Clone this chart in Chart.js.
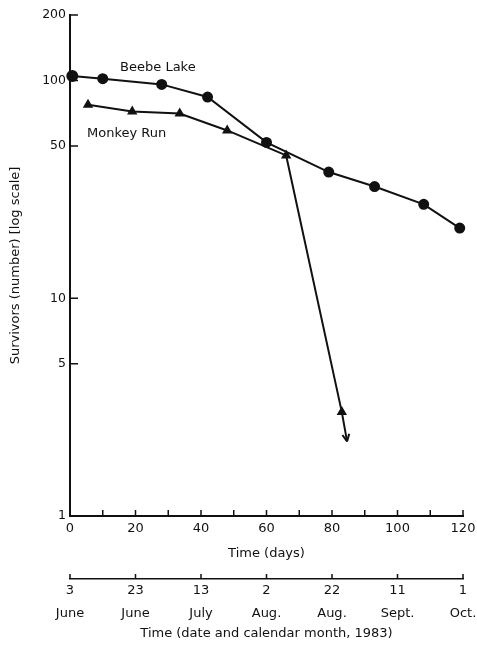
<!DOCTYPE html>
<html>
<head>
<meta charset="utf-8">
<script src="https://cdn.jsdelivr.net/npm/chart.js@4.4.1/dist/chart.umd.min.js"></script>
<style>
  body { margin: 0; background: #fff; }
  #wrap { width: 477px; height: 645px; position: relative; }
</style>
</head>
<body>
<div id="wrap"><canvas id="survChart"></canvas></div>
<script>
// --- Données ---
const beebeDays = [0.7, 10, 28, 42, 60, 79, 93, 108, 119];
const beebeCounts = [105, 102, 96, 84, 52, 38, 32.6, 27, 21];

const monkeyDays = [5.5, 19, 33.5, 48, 66, 83, 84.6];   // dernier = pointe de la flèche
const monkeyCounts = [77.5, 72, 70.5, 59, 45.3, 3, 2.2];

const yTickValues = [1, 5, 10, 50, 100, 200];
const dayTickValues = [0, 20, 40, 60, 80, 100, 120];
const dateDays = ['3', '23', '13', '2', '22', '11', '1'];
const dateMonths = ['June', 'June', 'July', 'Aug.', 'Aug.', 'Sept.', 'Oct.'];

const seriesLabels = [
  { text: 'Beebe Lake', day: 15.3, count: 115 },
  { text: 'Monkey Run', day: 5.2, count: 57 }
];

const FONT = "'DejaVu Sans', Verdana, sans-serif";
const INK = '#111';

function toXY(xs, ys) { return xs.map((x, i) => ({ x: x, y: ys[i] })); }

// on fixe la taille des axes pour caler la zone de tracé
function fixX(h) {
  return s => { s.height = h; s.paddingLeft = 0; s.paddingRight = 0; };
}

// petits traits vers l'intérieur + flèche + étiquettes
const decorPlugin = {
  id: 'decor',
  afterDraw(chart) {
    const ctx = chart.ctx;
    const xs = chart.scales.x, ys = chart.scales.y, x2 = chart.scales.x2;
    ctx.save();
    ctx.strokeStyle = INK;
    ctx.lineWidth = 1.5;
    ctx.beginPath();
    yTickValues.forEach(v => {
      const py = ys.getPixelForValue(v);
      ctx.moveTo(xs.left, py); ctx.lineTo(xs.left + 8, py);
    });
    for (let d = 10; d <= 120; d += 10) {
      const px = xs.getPixelForValue(d);
      ctx.moveTo(px, ys.bottom); ctx.lineTo(px, ys.bottom - 6);
    }
    dayTickValues.forEach(d => {
      const px = x2.getPixelForValue(d);
      ctx.moveTo(px, x2.top); ctx.lineTo(px, x2.top - 5);
    });
    ctx.stroke();

    // flèche au bout de Monkey Run
    const meta = chart.getDatasetMeta(1).data;
    const tip = meta[meta.length - 1], prev = meta[meta.length - 2];
    const ang = Math.atan2(tip.y - prev.y, tip.x - prev.x);
    ctx.lineWidth = 2;
    ctx.beginPath();
    [-0.45, 0.45].forEach(a => {
      ctx.moveTo(tip.x, tip.y);
      ctx.lineTo(tip.x - 8 * Math.cos(ang + a), tip.y - 8 * Math.sin(ang + a));
    });
    ctx.stroke();

    ctx.fillStyle = INK;
    ctx.font = '13px ' + FONT;
    ctx.textAlign = 'left';
    ctx.textBaseline = 'middle';
    seriesLabels.forEach(l => {
      ctx.fillText(l.text, xs.getPixelForValue(l.day), ys.getPixelForValue(l.count));
    });
    ctx.restore();
  }
};

new Chart(document.getElementById('survChart'), {
  type: 'line',
  data: {
    datasets: [
      {
        label: 'Beebe Lake',
        data: toXY(beebeDays, beebeCounts),
        borderColor: INK, backgroundColor: INK,
        borderWidth: 2, pointStyle: 'circle',
        pointRadius: beebeDays.map((d, i) => i === 0 ? 5 : 4.5),
        clip: false, tension: 0
      },
      {
        label: 'Monkey Run',
        data: toXY(monkeyDays, monkeyCounts),
        borderColor: INK, backgroundColor: INK,
        borderWidth: 2, pointStyle: 'triangle',
        pointRadius: monkeyDays.map((d, i) => i === monkeyDays.length - 1 ? 0 : 4),
        clip: false, tension: 0
      }
    ]
  },
  options: {
    responsive: true,
    maintainAspectRatio: false,
    animation: false,
    layout: { padding: { top: 15, right: 14, left: 0, bottom: 0 } },
    plugins: { legend: { display: false }, tooltip: { enabled: false } },
    scales: {
      x: {
        type: 'linear', position: 'bottom', weight: 0,
        min: 0, max: 120,
        afterBuildTicks: s => { s.ticks = dayTickValues.map(v => ({ value: v })); },
        afterFit: fixX(63),
        grid: { display: false, drawTicks: false },
        border: { display: true, color: INK, width: 2 },
        ticks: { color: INK, padding: 5, maxRotation: 0, font: { family: FONT, size: 13 } },
        title: { display: true, text: 'Time (days)', color: INK,
                 padding: { top: 0, bottom: 18 }, font: { family: FONT, size: 13 } }
      },
      x2: {
        type: 'linear', position: 'bottom', weight: 1,
        min: 0, max: 120,
        afterBuildTicks: s => { s.ticks = dayTickValues.map(v => ({ value: v })); },
        afterFit: fixX(66),
        grid: { display: false, drawTicks: false },
        border: { display: true, color: INK, width: 1.5 },
        ticks: {
          color: INK, padding: 1, maxRotation: 0, autoSkip: false,
          font: { family: FONT, size: 13, lineHeight: 1.7 },
          callback: v => {
            const i = dayTickValues.indexOf(v);
            return i < 0 ? '' : [dateDays[i], dateMonths[i]];
          }
        },
        title: { display: true, text: 'Time (date and calendar month, 1983)', color: INK,
                 padding: { top: 0, bottom: 4 }, font: { family: FONT, size: 13 } }
      },
      y: {
        type: 'logarithmic', position: 'left',
        min: 1, max: 200,
        afterBuildTicks: s => { s.ticks = yTickValues.map(v => ({ value: v })); },
        afterFit: s => { s.width = 70; s.paddingTop = 0; s.paddingBottom = 0; },
        grid: { display: false, drawTicks: false },
        border: { display: true, color: INK, width: 2 },
        ticks: { color: INK, padding: 4, font: { family: FONT, size: 12.5 },
                 callback: v => String(v) },
        title: { display: true, text: 'Survivors (number) [log scale]', color: INK,
                 padding: { top: 8, bottom: 0 }, font: { family: FONT, size: 13 } }
      }
    }
  },
  plugins: [decorPlugin]
});
</script>
</body>
</html>
